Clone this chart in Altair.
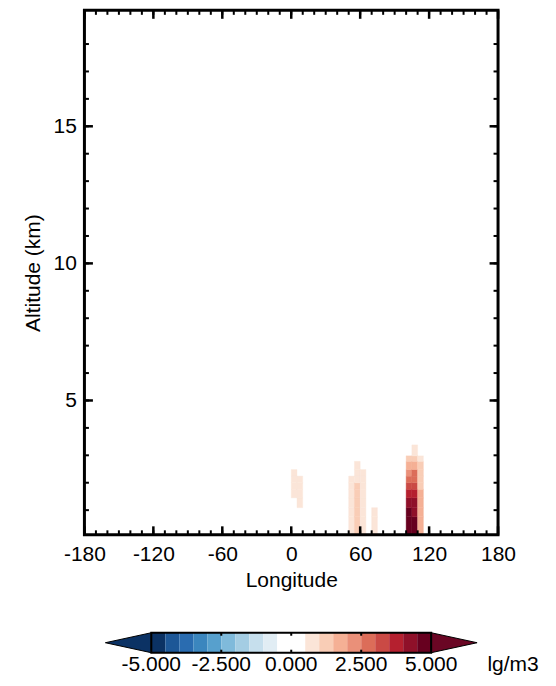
import altair as alt
import pandas as pd

# ---------------- data ----------------
# model level edges (km) of the coloured cells
level_edges = [0.1, 0.76, 1.09, 1.45, 1.76, 2.0, 2.24, 2.48, 2.78, 2.98, 3.38]
cell_width = 5  # degrees longitude
col_lons = [0, 5, 50, 55, 60, 70, 100, 105, 110]
N = None
col_values = [
    [N, N, N, 0.75, 0.75, 0.75, 0.75, N, N, N],                 # 0
    [N, N, 0.75, 0.75, 0.75, 0.75, N, N, N, N],                 # 5
    [0.75, 0.75, 0.75, 0.75, 0.75, 0.75, N, N, N, N],           # 50
    [1.25, 1.25, 1.25, 1.25, 1.25, 0.75, 0.75, 0.75, N, N],     # 55
    [0.75, 0.75, 0.75, 0.75, 0.75, 0.75, 0.75, N, N, N],        # 60
    [0.75, 0.75, N, N, N, N, N, N, N, N],                       # 70
    [5.5, 4.75, 4.25, 3.75, 3.25, 2.75, 2.25, 1.75, 1.25, N],   # 100
    [5.5, 4.25, 4.25, 3.75, 3.25, 2.75, 2.75, 1.75, 1.25, 0.75],# 105
    [1.75, 1.75, 1.75, 1.75, 1.25, 1.25, 1.25, 1.25, 0.75, N],  # 110
]

x_major = [-180, -120, -60, 0, 60, 120, 180]
x_minor = list(range(-180, 181, 10))
y_major = [5, 10, 15]
y_minor = list(range(1, 19))

cb_thresholds = [-4.5, -4.0, -3.5, -3.0, -2.5, -2.0, -1.5, -1.0, -0.5, 0.0,
                 0.5, 1.0, 1.5, 2.0, 2.5, 3.0, 3.5, 4.0, 4.5]
cb_colors = ["#0b3264", "#1d5797", "#2a6cb0", "#3b86be", "#57a0cd",
             "#7fbadb", "#a4cde3", "#c6dfed", "#e1edf4", "#ffffff",
             "#ffffff", "#fbe5d8", "#f9cdb6", "#f5b095", "#ea9079",
             "#dc6d59", "#ca4a45", "#b5202f", "#8f1029", "#67001f"]
cb_edges = [-5.0 + 0.5 * i for i in range(21)]
cb_ticks = [-5.0, -2.5, 0.0, 2.5, 5.0]
cb_labels = ["-5.000", "-2.500", "0.000", "2.500", "5.000"]
cb_inner_ticks = [-2.5, 0.0, 2.5]
unit_label = "lg/m3"

# ---------------- tables ----------------
rows = []
for lon, vals in zip(col_lons, col_values):
    for i, v in enumerate(vals):
        if v is not None:
            rows.append(dict(lon0=lon, lon1=lon + cell_width,
                             alt0=level_edges[i], alt1=level_edges[i + 1], value=v))
cells_df = pd.DataFrame(rows)

cb_df = pd.DataFrame({"c0": cb_edges[:-1], "c1": cb_edges[1:]})
cb_df["value"] = (cb_df["c0"] + cb_df["c1"]) / 2

W, H = 414, 525
FONT = "Liberation Sans"
FS = 21

xs = alt.Scale(domain=[-180, 180], nice=False, zero=False)
ys = alt.Scale(domain=[0.1, 19.23], nice=False, zero=False)
cs = alt.Scale(type="threshold", domain=cb_thresholds, range=cb_colors)

common = dict(ticks=False, domain=False, grid=False, labelFlush=False, labelOverlap=False,
              labelBound=False,
              labelFont=FONT, labelFontSize=FS, labelColor="black",
              titleFont=FONT, titleFontSize=FS, titleColor="black", titleFontWeight="normal",
              labelExpr="'' + datum.value")
x_axis = alt.Axis(values=x_major, title="Longitude", labelPadding=9, titlePadding=5, **common)
y_axis = alt.Axis(values=y_major, title="Altitude (km)", labelPadding=8, titlePadding=10, **common)

cells = alt.Chart(cells_df).mark_rect(strokeWidth=0.4).encode(
    x=alt.X("lon0:Q", scale=xs, axis=x_axis),
    x2="lon1:Q",
    y=alt.Y("alt0:Q", scale=ys, axis=y_axis),
    y2="alt1:Q",
    color=alt.Color("value:Q", scale=cs, legend=None),
    stroke=alt.Stroke("value:Q", scale=cs, legend=None),
)

def xticks(vals, y0, y1, sw):
    return alt.Chart(pd.DataFrame({"lon0": vals})).mark_rule(color="black", strokeWidth=sw).encode(
        x=alt.X("lon0:Q", scale=xs, axis=x_axis), y=alt.value(y0), y2=alt.value(y1))

def yticks(vals, x0, x1, sw):
    return alt.Chart(pd.DataFrame({"alt0": vals})).mark_rule(color="black", strokeWidth=sw).encode(
        y=alt.Y("alt0:Q", scale=ys, axis=y_axis), x=alt.value(x0), x2=alt.value(x1))

ticks = [
    xticks(x_minor, H, H - 4.5, 2), xticks(x_major, H, H - 8.5, 2.5),
    xticks(x_minor, 0, 4.5, 2), xticks(x_major, 0, 8.5, 2.5),
    yticks(y_minor, 0, 4.5, 2), yticks(y_major, 0, 8.5, 2.5),
    yticks(y_minor, W, W - 4.5, 2), yticks(y_major, W, W - 8.5, 2.5),
]

frame = alt.Chart(pd.DataFrame({"f": [0]})).mark_rect(
    fill=None, stroke="black", strokeWidth=3).encode(
    x=alt.value(0), x2=alt.value(W), y=alt.value(0), y2=alt.value(H))

main = alt.layer(cells, *ticks, frame)

# ---------------- colour bar ----------------
cbs = alt.Scale(domain=[-7.39, 7.39], nice=False, zero=False)
CB_T, CB_B = 623, 643
CB_M = (CB_T + CB_B) / 2

cb_rects = alt.Chart(cb_df).mark_rect().encode(
    x=alt.X("c0:Q", scale=cbs, axis=None), x2="c1:Q",
    y=alt.value(CB_T), y2=alt.value(CB_B),
    color=alt.Color("value:Q", scale=cs, legend=None),
)
cb_box = alt.Chart(pd.DataFrame({"c0": [cb_edges[0]], "c1": [cb_edges[-1]]})).mark_rect(
    fill=None, stroke="black", strokeWidth=2).encode(
    x=alt.X("c0:Q", scale=cbs, axis=None), x2="c1:Q",
    y=alt.value(CB_T), y2=alt.value(CB_B))
tri_l = alt.Chart(pd.DataFrame({"c0": [cb_edges[0] - 0.82]})).mark_point(
    shape="M -1 0 L 1 -0.435 L 1 0.435 Z", size=2116, filled=True, opacity=1,
    fill=cb_colors[0], stroke="black", strokeWidth=1).encode(
    x=alt.X("c0:Q", scale=cbs, axis=None), y=alt.value(CB_M))
tri_r = alt.Chart(pd.DataFrame({"c0": [cb_edges[-1] + 0.82]})).mark_point(
    shape="M 1 0 L -1 -0.435 L -1 0.435 Z", size=2116, filled=True, opacity=1,
    fill="#6a0624", stroke="black", strokeWidth=1).encode(
    x=alt.X("c0:Q", scale=cbs, axis=None), y=alt.value(CB_M))
cb_tk_df = pd.DataFrame({"c0": cb_inner_ticks})
cb_tk_top = alt.Chart(cb_tk_df).mark_rule(color="black", strokeWidth=2).encode(
    x=alt.X("c0:Q", scale=cbs, axis=None), y=alt.value(CB_T), y2=alt.value(CB_T + 3))
cb_tk_bot = alt.Chart(cb_tk_df).mark_rule(color="black", strokeWidth=2).encode(
    x=alt.X("c0:Q", scale=cbs, axis=None), y=alt.value(CB_B), y2=alt.value(CB_B - 3))
cb_text = alt.Chart(pd.DataFrame({"c0": cb_ticks, "lab": cb_labels})).mark_text(
    font=FONT, fontSize=FS, color="black", baseline="middle", align="center").encode(
    x=alt.X("c0:Q", scale=cbs, axis=None), y=alt.value(655), text="lab:N")
unit = alt.Chart(pd.DataFrame({"u": [unit_label]})).mark_text(
    font=FONT, fontSize=FS, color="black", baseline="middle", align="center").encode(
    x=alt.value(429), y=alt.value(655), text="u:N")

colorbar = alt.layer(cb_rects, tri_l, tri_r, cb_box, cb_tk_top, cb_tk_bot, cb_text, unit)

chart = alt.layer(main, colorbar).resolve_scale(x="independent").properties(
    width=W, height=H,
    autosize=alt.AutoSizeParams(type="none"),
    padding={"left": 76.5, "top": 2, "right": 50, "bottom": 150},
    background="white",
).configure_view(stroke=None)

chart.save("out.html", embed_options={"renderer": "svg", "actions": False})
